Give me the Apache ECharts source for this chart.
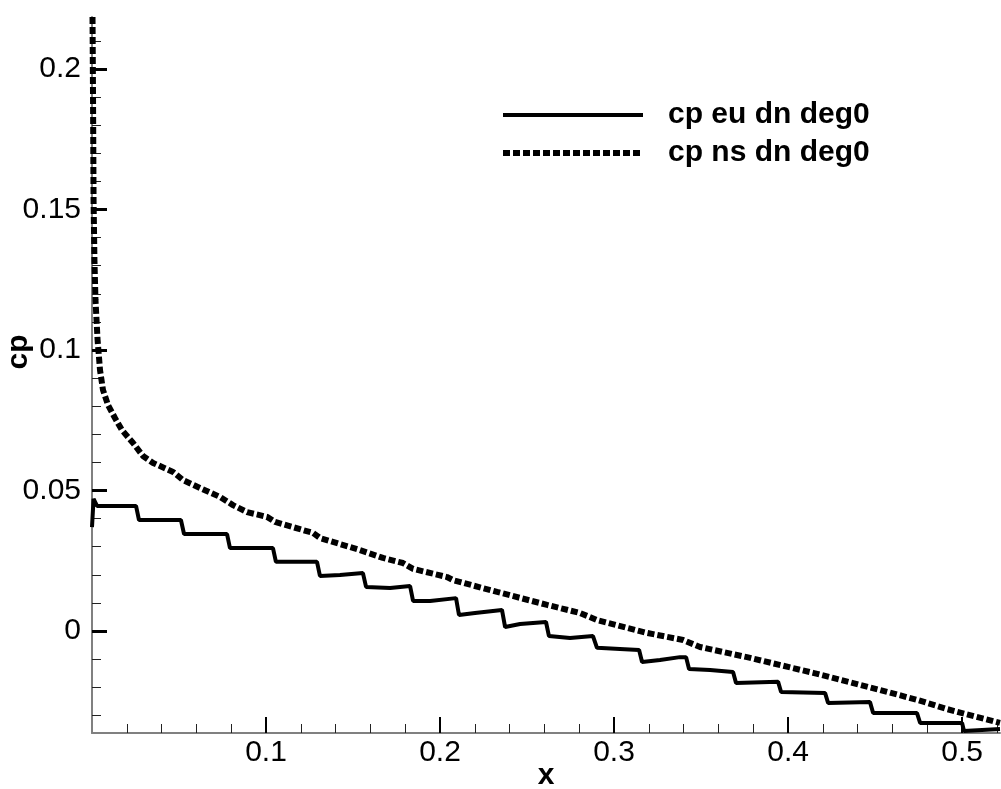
<!DOCTYPE html>
<html><head><meta charset="utf-8">
<script src="https://cdn.jsdelivr.net/npm/echarts@6/dist/echarts.min.js"></script>
<style>html,body{margin:0;padding:0;background:#fff}#c{width:1001px;height:789px}</style>
</head><body><div id="c"></div>
<script>
const seriesNames = ['cp eu dn deg0', 'cp ns dn deg0'];

const euX = [0, 0.0009, 0.0029, 0.0253, 0.0270, 0.0511, 0.0529, 0.0776, 0.0793, 0.1040, 0.1057, 0.1293, 0.1310, 0.1425, 0.1557,
  0.1575, 0.1713, 0.1828, 0.1845, 0.1943, 0.2092, 0.2109, 0.2201, 0.2356, 0.2374, 0.2460, 0.2609, 0.2626, 0.2747, 0.2879,
  0.2902, 0.3034, 0.3144, 0.3161, 0.3264, 0.3379, 0.3414, 0.3431, 0.3552, 0.3684, 0.3701, 0.3943, 0.3960, 0.4213, 0.4230,
  0.4471, 0.4489, 0.4741, 0.4759, 0.5000, 0.5011, 0.5218];
const euCp = [0.0370, 0.0470, 0.0445, 0.0445, 0.0395, 0.0395, 0.0345, 0.0345, 0.0295, 0.0295, 0.0246, 0.0246, 0.0196, 0.0199, 0.0206,
  0.0157, 0.0153, 0.0160, 0.0107, 0.0107, 0.0117, 0.0057, 0.0064, 0.0075, 0.0014, 0.0025, 0.0032, -0.0018, -0.0025, -0.0018,
  -0.0060, -0.0064, -0.0068, -0.0110, -0.0103, -0.0093, -0.0093, -0.0135, -0.0139, -0.0146, -0.0185, -0.0181, -0.0217, -0.0221, -0.0256,
  -0.0253, -0.0292, -0.0292, -0.0327, -0.0327, -0.0356, -0.0349];

const nsX = [0.0003, 0.0006, 0.0009, 0.0014, 0.0020, 0.0032, 0.0046, 0.0063, 0.0092, 0.0132, 0.0172, 0.0236, 0.0293, 0.0351,
  0.0466, 0.0523, 0.0621, 0.0736, 0.0810, 0.0891, 0.1006, 0.1052, 0.1270, 0.1310, 0.1540, 0.1672, 0.1787, 0.1845, 0.2040,
  0.2075, 0.2328, 0.2615, 0.2805, 0.2902, 0.3190, 0.3397, 0.3494, 0.3764, 0.4144, 0.4529, 0.4747, 0.4914, 0.5017, 0.5218];
const nsCp = [0.2185, 0.1890, 0.1534, 0.1320, 0.1178, 0.1036, 0.0929, 0.0858, 0.0804, 0.0758, 0.0715, 0.0669, 0.0623, 0.0598,
  0.0566, 0.0537, 0.0509, 0.0477, 0.0448, 0.0423, 0.0406, 0.0388, 0.0349, 0.0331, 0.0288, 0.0260, 0.0242, 0.0221, 0.0192,
  0.0181, 0.0139, 0.0093, 0.0064, 0.0039, -0.0007, -0.0032, -0.0057, -0.0093, -0.0149, -0.0210, -0.0246, -0.0278, -0.0295, -0.0327];

const xMajorTicks = [0.1, 0.2, 0.3, 0.4, 0.5];
const xMinorTicks = [0.02, 0.04, 0.06, 0.08, 0.12, 0.14, 0.16, 0.18, 0.22, 0.24, 0.26, 0.28, 0.32, 0.34, 0.36, 0.38,
  0.42, 0.44, 0.46, 0.48, 0.52];
const yMajorTicks = [0, 0.05, 0.1, 0.15, 0.2];
const yMinorTicks = [-0.03, -0.02, -0.01, 0.01, 0.02, 0.03, 0.04, 0.06, 0.07, 0.08, 0.09, 0.11, 0.12, 0.13, 0.14,
  0.16, 0.17, 0.18, 0.19, 0.21];
const xRange = [0, 0.5218];
const yRange = [-0.0363, 0.2185];
const xName = 'x';
const yName = 'cp';

const FONT = 'Liberation Sans';
const fmt = v => String(+(+v).toFixed(4));

const chart = echarts.init(document.getElementById('c'), null, {renderer: 'canvas'});
chart.setOption({
  animation: false,
  backgroundColor: '#fff',
  grid: {left: 92, right: 1, top: 17, bottom: 56, containLabel: false, outerBoundsMode: 'none'},
  legend: {
    orient: 'vertical', left: 500, top: 100, padding: 0,
    itemWidth: 140, itemHeight: 14, itemGap: 8,
    itemStyle: {opacity: 0},
    data: [
      {name: seriesNames[0], lineStyle: {color: '#000', width: 4, type: 'solid'}},
      {name: seriesNames[1], lineStyle: {color: '#000', width: 6, type: [7, 3]}}
    ],
    textStyle: {fontFamily: FONT, fontWeight: 'bold', fontSize: 30, color: '#000', padding: [0, 0, 0, 20]}
  },
  xAxis: [{
    type: 'value', min: xRange[0], max: xRange[1],
    name: xName, nameLocation: 'middle', nameGap: 28, nameMoveOverlap: false,
    nameTextStyle: {fontFamily: FONT, fontWeight: 'bold', fontSize: 30, color: '#000'},
    axisLine: {show: true, onZero: false, lineStyle: {color: '#808080', width: 2}},
    axisTick: {show: true, inside: true, length: 16, customValues: xMajorTicks, lineStyle: {color: '#000', width: 2}},
    axisLabel: {show: true, margin: 5, customValues: xMajorTicks, formatter: fmt, fontFamily: FONT, fontSize: 30, color: '#000'},
    splitLine: {show: false}
  }, {
    type: 'value', min: xRange[0], max: xRange[1], position: 'bottom',
    axisLine: {show: false, onZero: false},
    axisTick: {show: true, inside: true, length: 9, customValues: xMinorTicks, lineStyle: {color: '#222', width: 1}},
    axisLabel: {show: false},
    splitLine: {show: false}
  }],
  yAxis: [{
    type: 'value', min: yRange[0], max: yRange[1],
    name: yName, nameLocation: 'middle', nameGap: 58, nameRotate: 90, nameMoveOverlap: false,
    nameTextStyle: {fontFamily: FONT, fontWeight: 'bold', fontSize: 30, color: '#000', padding: [0, 0, 0, 46]},
    axisLine: {show: true, onZero: false, lineStyle: {color: '#808080', width: 2}},
    axisTick: {show: true, inside: true, length: 15, customValues: yMajorTicks, lineStyle: {color: '#000', width: 3}},
    axisLabel: {show: true, margin: 11, customValues: yMajorTicks, formatter: fmt, fontFamily: FONT, fontSize: 30, color: '#000'},
    splitLine: {show: false}
  }, {
    type: 'value', min: yRange[0], max: yRange[1], position: 'left',
    axisLine: {show: false, onZero: false},
    axisTick: {show: true, inside: true, length: 9, customValues: yMinorTicks, lineStyle: {color: '#222', width: 1}},
    axisLabel: {show: false},
    splitLine: {show: false}
  }],
  series: [{
    name: seriesNames[0], type: 'line', symbol: 'none', xAxisIndex: 0, yAxisIndex: 0,
    data: euX.map((x, i) => [x, euCp[i]]),
    lineStyle: {color: '#000', width: 4, type: 'solid'},
    itemStyle: {color: '#000'}
  }, {
    name: seriesNames[1], type: 'line', symbol: 'none', xAxisIndex: 0, yAxisIndex: 0,
    data: nsX.map((x, i) => [x, nsCp[i]]),
    lineStyle: {color: '#000', width: 6, type: [7, 3]},
    itemStyle: {color: '#000'}
  }]
});
</script>
</body></html>
